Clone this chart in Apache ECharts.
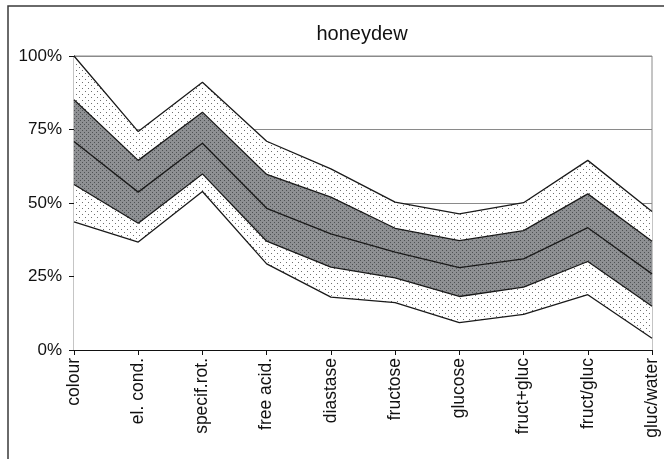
<!DOCTYPE html>
<html>
<head>
<meta charset="utf-8">
<script src="https://cdn.jsdelivr.net/npm/echarts@6/dist/echarts.min.js"></script>
<style>
  html, body { margin: 0; padding: 0; background: #fff; }
  #main { width: 664px; height: 459px; }
</style>
</head>
<body>
<div id="main"></div>
<script>
var categories = ['colour', 'el. cond.', 'specif.rot.', 'free acid.', 'diastase', 'fructose', 'glucose', 'fruct+gluc', 'fruct/gluc', 'gluc/water'];
// five percentile lines, top to bottom (in %)
var outerUpper = [100, 74.3, 91.1, 71.0, 61.6, 50.3, 46.3, 50.1, 64.5, 47.1];
var innerUpper = [85.1, 64.5, 80.9, 59.7, 52.0, 41.4, 37.2, 40.6, 53.1, 37.0];
var middle     = [70.9, 53.7, 70.3, 48.2, 39.5, 33.3, 28.0, 31.0, 41.6, 25.9];
var innerLower = [56.3, 43.1, 59.9, 37.0, 28.2, 24.5, 18.2, 21.4, 30.1, 14.9];
var outerLower = [43.6, 36.7, 53.9, 29.3, 18.0, 16.1, 9.3, 12.1, 18.8, 4.0];

// dotted fills
function makePattern(size, bg, dot, pts) {
    var c = document.createElement('canvas');
    c.width = size; c.height = size;
    var ctx = c.getContext('2d');
    ctx.fillStyle = bg;
    ctx.fillRect(0, 0, size, size);
    ctx.fillStyle = dot;
    pts.forEach(function(p) { ctx.fillRect(p[0], p[1], 1, 1); });
    return c;
}
var lightDots = makePattern(6, '#ffffff', '#6f6f6f', [[1, 1], [4, 4]]);
var darkDots  = makePattern(4, '#8e9093', '#4e5153', [[0, 0], [2, 2]]);

var font = 'Liberation Sans, Arial, sans-serif';

function band(name, data, fill) {
    return {
        name: name,
        type: 'line',
        data: data,
        symbol: 'none',
        silent: true,
        lineStyle: { color: '#1a1a1a', width: 1.3 },
        areaStyle: fill ? { color: fill, opacity: 1, origin: 'start' } : undefined
    };
}

var myChart = echarts.init(document.getElementById('main'));

var option = {
    backgroundColor: '#fff',
    animation: false,
    title: {
        text: 'honeydew',
        left: 357,
        top: 19,
        textAlign: 'center',
        textStyle: { fontFamily: font, fontSize: 20, fontWeight: 'normal', color: '#111' }
    },
    grid: {
        left: 74, right: 12, top: 56, bottom: 109,
        show: true, borderColor: '#8a8a8a', borderWidth: 1,
        containLabel: false
    },
    xAxis: {
        type: 'category',
        data: categories,
        boundaryGap: false,
        axisLine: { lineStyle: { color: '#111', width: 1 } },
        axisTick: { show: true, length: 5, lineStyle: { color: '#111' } },
        axisLabel: { rotate: 90, margin: 8, color: '#111', fontFamily: font, fontSize: 17.5 },
        splitLine: { show: false }
    },
    yAxis: {
        type: 'value',
        min: 0, max: 100, interval: 25,
        axisLine: { show: true, lineStyle: { color: '#111', width: 1 } },
        axisTick: { show: true, length: 5, lineStyle: { color: '#111' } },
        axisLabel: { formatter: '{value}%', margin: 12, color: '#111', fontFamily: font, fontSize: 17 },
        splitLine: { show: true, lineStyle: { color: '#8a8a8a', width: 1 } }
    },
    graphic: [{
        type: 'rect',
        shape: { x: 8, y: 6, width: 800, height: 600 },
        style: { fill: 'none', stroke: '#3a3a3a', lineWidth: 1.5 },
        silent: true
    }],
    series: [
        band('outer upper', outerUpper, { image: lightDots, repeat: 'repeat' }),
        band('inner upper', innerUpper, { image: darkDots, repeat: 'repeat' }),
        band('middle', middle, null),
        band('inner lower', innerLower, { image: lightDots, repeat: 'repeat' }),
        band('outer lower', outerLower, '#ffffff')
    ]
};

myChart.setOption(option);
</script>
</body>
</html>
